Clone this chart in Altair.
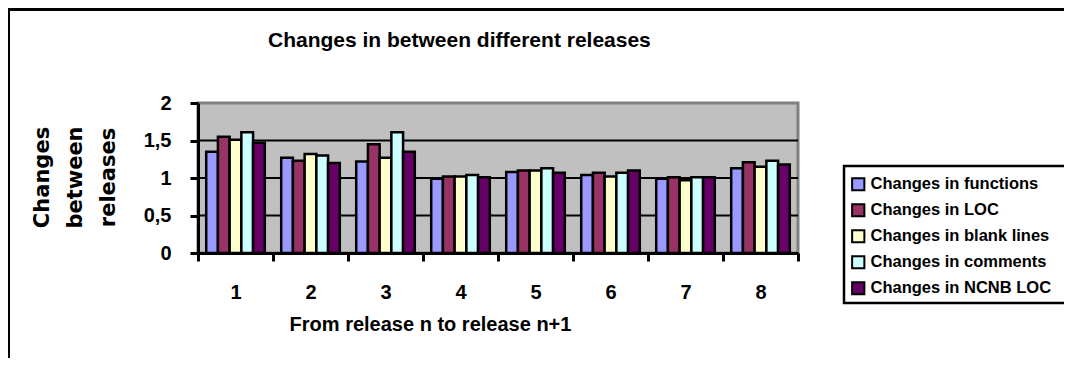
import altair as alt
import pandas as pd

RELEASES = ["1", "2", "3", "4", "5", "6", "7", "8"]
SERIES = [
    "Changes in functions",
    "Changes in LOC",
    "Changes in blank lines",
    "Changes in comments",
    "Changes in NCNB LOC",
]
COLORS = ["#9999FF", "#993366", "#FFFFCC", "#CCFFFF", "#660066"]

FUNCTIONS = [1.35, 1.27, 1.22, 0.99, 1.08, 1.04, 0.99, 1.13]
LOC = [1.55, 1.23, 1.45, 1.02, 1.10, 1.07, 1.01, 1.21]
BLANK = [1.51, 1.32, 1.27, 1.02, 1.10, 1.02, 0.97, 1.15]
COMMENTS = [1.61, 1.30, 1.61, 1.04, 1.13, 1.07, 1.01, 1.23]
NCNB = [1.47, 1.20, 1.35, 1.01, 1.07, 1.10, 1.01, 1.18]

Y_TICKS = [0, 0.5, 1, 1.5, 2]
GRID = [0.5, 1, 1.5]

TITLE = "Changes in between different releases"
X_TITLE = "From release n to release n+1"
Y_TITLE = ["Changes", "between", "releases"]

rows = []
for name, vals in zip(SERIES, [FUNCTIONS, LOC, BLANK, COMMENTS, NCNB]):
    for r, v in zip(RELEASES, vals):
        rows.append({"release": r, "series": name, "value": v})
df = pd.DataFrame(rows)

FONT = "Liberation Sans"

Y_SCALE = alt.Scale(domain=[0, 2])
Y_AXIS = alt.Axis(
    values=Y_TICKS,
    labelExpr="replace(toString(datum.value), '.', ',')",
    grid=False,
    tickSize=8,
    tickWidth=3,
    tickColor="black",
    domainColor="black",
    domainWidth=3,
    labelFont=FONT,
    labelFontSize=20,
    labelFontWeight="bold",
    labelColor="black",
    labelPadding=19,
    title=Y_TITLE,
    titleFont="DejaVu Sans",
    titleFontSize=21,
    titleFontWeight="bold",
    titleColor="black",
    titleAngle=270,
    titleAlign="center",
    titleBaseline="alphabetic",
    titleLineHeight=33,
    titleX=-150,
    titleY=74,
    zindex=2,
)

grid = alt.Chart(pd.DataFrame({"value": GRID})).mark_rule(
    color="black", strokeWidth=2
).encode(y=alt.Y("value:Q", axis=Y_AXIS, scale=Y_SCALE))

bars = alt.Chart(df).mark_bar(stroke="black", strokeWidth=2.5).encode(
    x=alt.X(
        "release:N",
        sort=RELEASES,
        scale=alt.Scale(paddingInner=0, paddingOuter=0),
        axis=alt.Axis(
            title=X_TITLE,
            labelAngle=0,
            tickBand="extent",
            tickSize=8,
            tickWidth=3,
            tickColor="black",
            domainColor="black",
            domainWidth=3,
            labelFont=FONT,
            labelFontSize=20,
            labelFontWeight="bold",
            labelColor="black",
            labelPadding=21,
            titleFont=FONT,
            titleFontSize=20,
            titleFontWeight="bold",
            titleColor="black",
            titleX=232,
            titleY=77,
            titleAlign="center",
            titleBaseline="alphabetic",
            zindex=2,
        ),
    ),
    xOffset=alt.XOffset(
        "series:N", sort=SERIES, scale=alt.Scale(paddingOuter=0.7, paddingInner=0)
    ),
    y=alt.Y("value:Q", scale=Y_SCALE, axis=Y_AXIS),
    color=alt.Color(
        "series:N",
        sort=SERIES,
        scale=alt.Scale(domain=SERIES, range=COLORS),
        legend=alt.Legend(
            title=None,
            orient="none",
            legendX=652,
            legendY=73,
            symbolType="square",
            symbolSize=150,
            symbolStrokeColor="black",
            symbolStrokeWidth=2,
            symbolOpacity=1,
            labelFont=FONT,
            labelFontSize=16.5,
            labelFontWeight="bold",
            labelColor="black",
            labelLimit=300,
            labelOffset=4,
            rowPadding=5,
            padding=0,
        ),
    ),
)

one = pd.DataFrame({"t": [TITLE]})

legend_box = alt.Chart(one).mark_rect(
    fill="white", stroke="black", strokeWidth=2.5
).encode(
    x=alt.value(646), x2=alt.value(872), y=alt.value(63), y2=alt.value(200)
)

frame_v = alt.Chart(one).mark_rule(color="black", strokeWidth=3).encode(
    x=alt.value(-189.5), y=alt.value(-93.5), y2=alt.value(260)
)
frame_h = alt.Chart(one).mark_rule(color="black", strokeWidth=3).encode(
    x=alt.value(-191), x2=alt.value(870), y=alt.value(-93.5)
)

title = alt.Chart(one).mark_text(
    font=FONT, fontSize=21, fontWeight="bold", color="black",
    align="left", baseline="alphabetic"
).encode(text="t:N", x=alt.value(70), y=alt.value(-56))

chart = alt.layer(grid, bars, legend_box, frame_v, frame_h, title).properties(
    width=600,
    height=150,
    autosize="none",
    padding={"left": 190, "top": 95, "right": 266, "bottom": 105},
    background="white",
).configure_view(
    fill="#C0C0C0", stroke="#808080", strokeWidth=3
)

chart.save("out.html", embed_options={"renderer": "svg", "actions": False})
